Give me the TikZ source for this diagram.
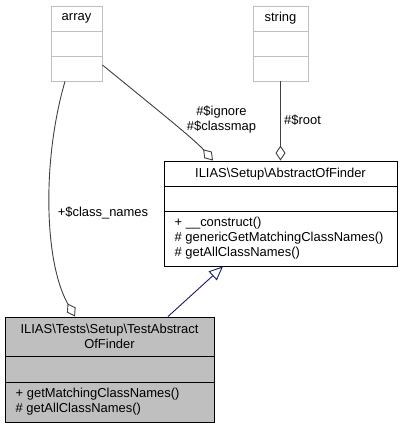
\documentclass[tikz,border=0pt]{standalone}
\usepackage{fontspec}
\setmainfont{Liberation Sans}
\usetikzlibrary{arrows.meta}
\definecolor{lgray}{HTML}{BFBFBF}
\definecolor{edgegray}{HTML}{404040}
\definecolor{midblue}{HTML}{191970}
\begin{document}
\begin{tikzpicture}[x=1bp,y=-1bp,
  font=\fontsize{13}{15}\selectfont,
  box/.style={draw=#1, line width=0.9bp, inner sep=0pt},
  txt/.style={inner sep=0pt, align=center},
  mtxt/.style={inner sep=0pt, align=left, anchor=west},
  usage/.style={draw=edgegray, line width=0.9bp, -{Diamond[open, length=15bp, width=10bp, line width=0.9bp]}},
  inherit/.style={draw=midblue, line width=0.9bp, -{Triangle[open, length=14bp, width=12bp, line width=0.9bp]}}
]
\useasboundingbox (0,0) rectangle (403,428);
\fill[white] (0,0) rectangle (403,428);

% array
\node[box=lgray, fill=white, minimum width=51bp, minimum height=75bp] (array) at (76.5,43.5) {};
\draw[lgray, line width=0.9bp] (array.west |- 0,31) -- (array.east |- 0,31);
\draw[lgray, line width=0.9bp] (array.west |- 0,56) -- (array.east |- 0,56);
\node[txt] (arrayt) at (76.5,18.5) {array};

% string
\node[box=lgray, fill=white, minimum width=55bp, minimum height=75bp] (string) at (280.5,43.5) {};
\draw[lgray, line width=0.9bp] (string.west |- 0,31) -- (string.east |- 0,31);
\draw[lgray, line width=0.9bp] (string.west |- 0,56) -- (string.east |- 0,56);
\node[txt] (stringt) at (280.5,18.5) {string};

% AbstractOfFinder
\node[box=black, fill=white, minimum width=233bp, minimum height=105bp] (abs) at (280.5,213.5) {};
\draw[black, line width=0.9bp] (abs.west |- 0,186) -- (abs.east |- 0,186);
\draw[black, line width=0.9bp] (abs.west |- 0,211) -- (abs.east |- 0,211);
\node[txt] (abst) at (280.5,174) {ILIAS\textbackslash Setup\textbackslash AbstractOfFinder};
\node[mtxt] (absm) at (174.5,238.5) {+ \_\_construct()\\\# genericGetMatchingClassNames()\\\# getAllClassNames()};

% TestAbstractOfFinder
\node[box=black, fill=lgray, minimum width=209bp, minimum height=105bp] (test) at (109.5,369.5) {};
\draw[black, line width=0.9bp] (test.west |- 0,356) -- (test.east |- 0,356);
\draw[black, line width=0.9bp] (test.west |- 0,382) -- (test.east |- 0,382);
\node[txt] (testt) at (109.5,336.5) {ILIAS\textbackslash Tests\textbackslash Setup\textbackslash TestAbstract\\OfFinder};
\node[mtxt] (testm) at (15.5,401.5) {+ getMatchingClassNames()\\\# getAllClassNames()};

% edges
\draw[usage] (array.east |- 0,65) .. controls (160,112) and (195,140) .. (abs.north -| 213,0);
\draw[usage] (string.south) -- (string.south |- abs.north);
\draw[usage] (array.south -| 65,0) .. controls (42,160) and (44,262) .. (test.north -| 75,0);
\draw[inherit] (test.north -| 168,0) -- (abs.south -| 223,0);

% labels
\node[txt] (lbl1) at (221.5,120) {\#\$ignore\\\#\$classmap};
\node[txt] (lbl2) at (302.5,120) {\#\$root};
\node[txt] (lbl3) at (103,213) {+\$class\_names};
\end{tikzpicture}
\end{document}
